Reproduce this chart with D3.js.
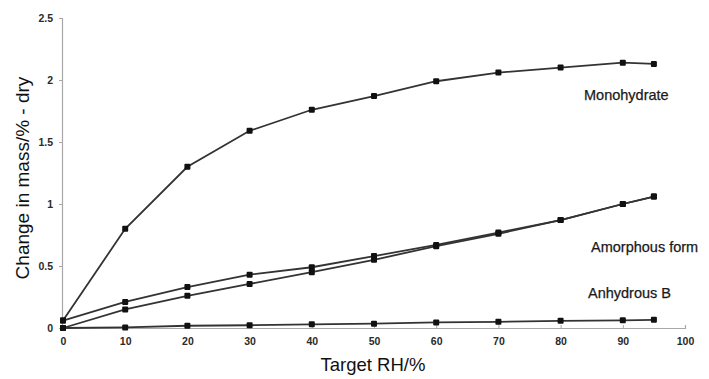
<!DOCTYPE html>
<html>
<head>
<meta charset="utf-8">
<script src="https://cdn.jsdelivr.net/npm/d3@7"></script>
<style>
  html, body { margin: 0; padding: 0; background: #ffffff; }
  svg { display: block; }
</style>
</head>
<body>
<svg id="chart" width="709" height="379"></svg>
<script>
// Target relative humidity steps (%)
const rhSteps = [0, 10, 20, 30, 40, 50, 60, 70, 80, 90, 95];

// Mass change (% of dry mass) for each solid form
const monohydrate   = [0.06, 0.80, 1.30, 1.59, 1.76, 1.87, 1.99, 2.06, 2.10, 2.14, 2.13];
const amorphousA    = [0.06, 0.21, 0.33, 0.43, 0.49, 0.58, 0.67, 0.77, 0.87, 1.00, 1.06];
const amorphousB    = [0.00, 0.15, 0.26, 0.355, 0.45, 0.55, 0.66, 0.76, 0.87, 1.00, 1.06];
const anhydrousB    = [0.00, 0.005, 0.018, 0.022, 0.03, 0.035, 0.045, 0.05, 0.058, 0.062, 0.066];

const xTicks = [0, 10, 20, 30, 40, 50, 60, 70, 80, 90, 100];
const yTicks = [0, 0.5, 1, 1.5, 2, 2.5];

const seriesLabels = [
  { text: "Monohydrate",    x: 584, y: 96 },
  { text: "Amorphous form", x: 591, y: 248 },
  { text: "Anhydrous B",    x: 588, y: 294 }
];

const svg = d3.select("#chart");
const plotLeft = 63, plotRight = 685, plotTop = 18, plotBottom = 328;

const x = d3.scaleLinear().domain([0, 100]).range([plotLeft, plotRight]);
const y = d3.scaleLinear().domain([0, 2.5]).range([plotBottom, plotTop]);

// Axes
const axisColor = "#a8a8a8";
const xAxis = svg.append("g")
  .attr("transform", `translate(0,${plotBottom})`)
  .call(d3.axisBottom(x).tickValues(xTicks).tickSize(-3).tickPadding(10).tickFormat(d3.format("d")));
const yAxis = svg.append("g")
  .attr("transform", `translate(${plotLeft - 1},0)`)
  .call(d3.axisLeft(y).tickValues(yTicks).tickSize(3).tickPadding(6).tickFormat(d => d));

[xAxis, yAxis].forEach(g => {
  g.select(".domain").attr("stroke", axisColor).attr("stroke-width", 1.2);
  g.selectAll(".tick line").attr("stroke", axisColor);
  g.selectAll(".tick text")
    .attr("fill", "#2a2a2a")
    .style("font-family", "Arial, 'Liberation Sans', sans-serif")
    .style("font-size", "10.5px")
    .style("font-weight", "bold");
});

// Series lines and square markers
const line = d3.line()
  .x((d, i) => x(rhSteps[i]))
  .y(d => y(d));

const allSeries = [anhydrousB, amorphousB, amorphousA, monohydrate];
const plot = svg.append("g");

allSeries.forEach(vals => {
  plot.append("path")
    .datum(vals)
    .attr("d", line)
    .attr("fill", "none")
    .attr("stroke", "#333")
    .attr("stroke-width", 1.8);
});

allSeries.forEach(vals => {
  plot.selectAll(null)
    .data(vals)
    .enter()
    .append("rect")
    .attr("x", (d, i) => x(rhSteps[i]) - 3)
    .attr("y", d => y(d) - 3)
    .attr("width", 6)
    .attr("height", 6)
    .attr("rx", 1)
    .attr("fill", "#111");
});

// Series names
svg.selectAll(".series-label")
  .data(seriesLabels)
  .enter()
  .append("text")
  .attr("class", "series-label")
  .attr("x", d => d.x)
  .attr("y", d => d.y)
  .attr("dominant-baseline", "middle")
  .attr("fill", "#1a1a1a")
  .attr("stroke", "#1a1a1a")
  .attr("stroke-width", 0.25)
  .style("font-family", "Arial, 'Liberation Sans', sans-serif")
  .style("font-size", "14.5px")
  .text(d => d.text);

// Axis titles
svg.append("text")
  .attr("x", (plotLeft + plotRight) / 2 - 1)
  .attr("y", 371)
  .attr("text-anchor", "middle")
  .attr("fill", "#111")
  .style("font-family", "Arial, 'Liberation Sans', sans-serif")
  .style("font-size", "18.5px")
  .text("Target RH/%");

svg.append("text")
  .attr("transform", "translate(29,178) rotate(-90)")
  .attr("text-anchor", "middle")
  .attr("fill", "#111")
  .style("font-family", "Arial, 'Liberation Sans', sans-serif")
  .style("font-size", "19px")
  .text("Change in mass/% - dry");
</script>
</body>
</html>
